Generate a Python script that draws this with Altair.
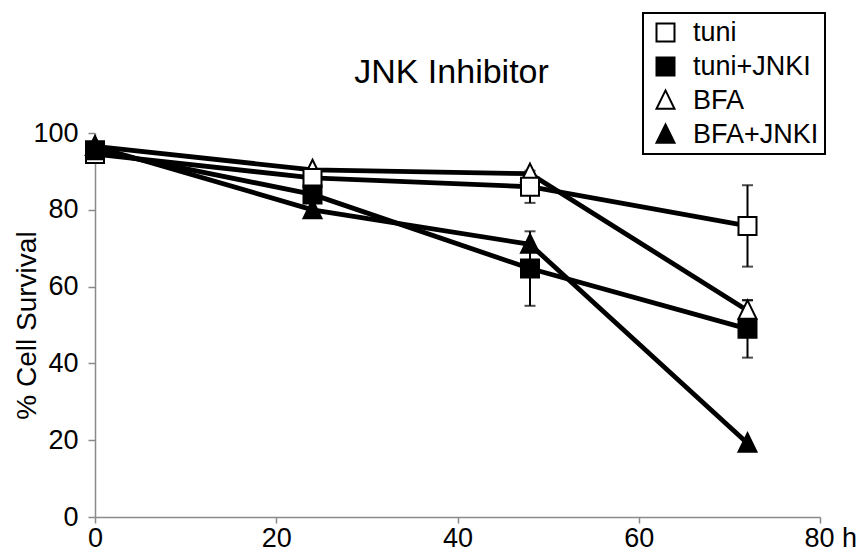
import altair as alt
import pandas as pd

hours = [0, 24, 48, 72]
series_names = ["tuni", "tuni+JNKI", "BFA", "BFA+JNKI"]

tuni = [94.5, 88.3, 86.0, 75.8]
tuni_err = [0, 0, 4.2, 10.6]
tuni_jnki = [95.5, 84.0, 64.7, 49.0]
tuni_jnki_err = [0, 0, 9.7, 7.5]
bfa = [96.5, 90.4, 89.4, 53.8]
bfa_err = [0, 0, 0, 2.6]
bfa_jnki = [96.5, 80.0, 71.0, 19.2]
bfa_jnki_err = [0, 0, 0, 0]

FONT = "Liberation Sans"
TRI = "M0,-1.12L1,0.93L-1,0.93Z"

values = {"tuni": tuni, "tuni+JNKI": tuni_jnki, "BFA": bfa, "BFA+JNKI": bfa_jnki}
errs = {"tuni": tuni_err, "tuni+JNKI": tuni_jnki_err, "BFA": bfa_err, "BFA+JNKI": bfa_jnki_err}
draw_order = ["BFA", "BFA+JNKI", "tuni", "tuni+JNKI"]

rows = []
for s in draw_order:
    for h, v, e in zip(hours, values[s], errs[s]):
        rows.append({"series": s, "hour": h, "value": v, "err": e, "lo": v - e, "hi": v + e})
df = pd.DataFrame(rows)
err_df = df[df["err"] > 0]

x_axis = alt.Axis(
    values=[0, 20, 40, 60, 80], title=None, tickSize=6, labelPadding=2,
    labelExpr="datum.value == 80 ? '80 h' : datum.label",
    labelAlign={"condition": {"test": "datum.value == 80", "value": "left"}, "value": "center"},
    labelOffset={"condition": {"test": "datum.value == 80", "value": -16}, "value": 0},
)
y_axis = alt.Axis(
    values=[0, 20, 40, 60, 80, 100], title="% Cell Survival", tickSize=7, labelPadding=10,
    titleX=-60, titleY=192, titleAngle=270, titleBaseline="alphabetic", titleAlign="center",
    titleFont=FONT, titleFontSize=28, titleFontWeight="normal", titleColor="black",
)
xs = alt.Scale(domain=[0, 80], nice=False)
ys = alt.Scale(domain=[0, 100], nice=False)

legend = alt.Legend(title=None, orient="none", legendX=548, legendY=-120, labelLimit=300,
                    labelExpr="datum.label + '\u00a0'")

rules = alt.Chart(err_df).mark_rule(color="black", strokeWidth=2).encode(
    x=alt.X("hour:Q", scale=xs, axis=x_axis),
    y=alt.Y("lo:Q", scale=ys, axis=y_axis),
    y2="hi:Q",
)
caps_lo = alt.Chart(err_df).mark_tick(color="black", orient="horizontal", size=11, thickness=2).encode(
    x=alt.X("hour:Q", scale=xs, axis=x_axis),
    y=alt.Y("lo:Q", scale=ys, axis=y_axis),
)
caps_hi = alt.Chart(err_df).mark_tick(color="black", orient="horizontal", size=11, thickness=2).encode(
    x=alt.X("hour:Q", scale=xs, axis=x_axis),
    y=alt.Y("hi:Q", scale=ys, axis=y_axis),
)
lines = alt.Chart(df).mark_line(color="black", strokeWidth=4.8).encode(
    x=alt.X("hour:Q", scale=xs, axis=x_axis),
    y=alt.Y("value:Q", scale=ys, axis=y_axis),
    detail="series:N",
    order="hour:Q",
)
points = alt.Chart(df).mark_point(filled=True, size=324, strokeWidth=2, opacity=1).encode(
    x=alt.X("hour:Q", scale=xs, axis=x_axis),
    y=alt.Y("value:Q", scale=ys, axis=y_axis),
    shape=alt.Shape("series:N", scale=alt.Scale(domain=series_names, range=["square", "square", TRI, TRI]), legend=legend),
    fill=alt.Fill("series:N", scale=alt.Scale(domain=series_names, range=["white", "black", "white", "black"]), legend=legend),
    stroke=alt.Stroke("series:N", scale=alt.Scale(domain=series_names, range=["black", "black", "black", "black"]), legend=legend),
)

chart = alt.layer(rules, caps_lo, caps_hi, lines, points).properties(
    width=725, height=384,
    padding={"left": 87, "top": 125, "right": 36, "bottom": 34},
    autosize=alt.AutoSizeParams(type="none"),
    title=alt.TitleParams(text="JNK Inhibitor", font=FONT, fontSize=34, fontWeight="normal", color="black",
                          anchor="middle", frame="group", dx=-6, offset=0, dy=105, baseline="alphabetic"),
).configure_view(stroke=None).configure_axis(
    grid=False, domainColor="#8a8a8a", domainWidth=1.5, tickColor="#8a8a8a", tickWidth=1.5,
    labelFont=FONT, labelFontSize=27, labelColor="black",
).configure_legend(
    padding=6, symbolOffset=3, labelOffset=14, rowPadding=6, labelFont=FONT, labelFontSize=27,
    labelColor="black", symbolSize=324, symbolStrokeColor="black", symbolStrokeWidth=2,
    strokeColor="black", strokeWidth=2, fillColor="white",
)

chart.save("out.html", embed_options={"renderer": "svg", "actions": False})
